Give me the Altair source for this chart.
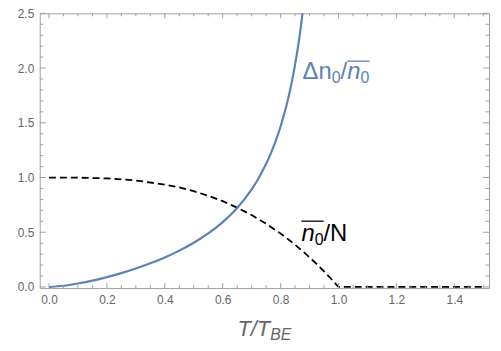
import altair as alt
import pandas as pd

# ---- data ----
t_fluct = [0.0, 0.05, 0.1, 0.15, 0.2, 0.25, 0.3, 0.35, 0.4, 0.45, 0.5, 0.55, 0.6,
           0.65, 0.7, 0.72, 0.74, 0.76, 0.78, 0.8, 0.82, 0.83, 0.84, 0.85, 0.86, 0.87, 0.88]
fluct = [0.0, 0.011, 0.032, 0.058, 0.090, 0.127, 0.169, 0.216, 0.270, 0.332, 0.404,
         0.489, 0.593, 0.722, 0.891, 0.975, 1.073, 1.182, 1.311, 1.466, 1.655, 1.766,
         1.890, 2.031, 2.191, 2.376, 2.592]

t_cond = [0.0, 0.1, 0.2, 0.3, 0.4, 0.45, 0.5, 0.55, 0.6, 0.65, 0.7, 0.75, 0.8, 0.825,
          0.85, 0.875, 0.9, 0.925, 0.95, 0.975, 1.0, 1.5]
cond = [1.0, 0.999, 0.992, 0.973, 0.936, 0.909, 0.875, 0.834, 0.784, 0.725, 0.657,
        0.578, 0.488, 0.438, 0.386, 0.330, 0.271, 0.209, 0.143, 0.073, 0.0, 0.0]

x_major = [0.0, 0.2, 0.4, 0.6, 0.8, 1.0, 1.2, 1.4]
x_minor = [round(0.05 * i, 2) for i in range(31) if round(0.05 * i, 2) not in x_major]
y_major = [0.0, 0.5, 1.0, 1.5, 2.0, 2.5]
y_minor = [round(0.1 * i, 1) for i in range(26) if round(0.1 * i, 1) not in y_major]

# ---- layout ----
W, H = 453, 277
XMIN, XMAX = -0.032, 1.52
YMIN, YMAX = -0.01, 2.5
PX_X = W / (XMAX - XMIN)
PX_Y = H / (YMAX - YMIN)
FRAME = "#a0a0a0"
LABEL = "#666666"
BLUE = "#5E81B5"
FONT = "Liberation Sans"

xs = alt.Scale(domain=[XMIN, XMAX], nice=False, zero=False)
ys = alt.Scale(domain=[YMIN, YMAX], nice=False, zero=False)

axis_common = dict(ticks=False, domain=False, grid=False, labelColor=LABEL,
                   labelFontSize=12, labelFont=FONT, title=None, format=".1f")

df_cond = pd.DataFrame({"t": t_cond, "v": cond})
df_fl = pd.DataFrame({"t": t_fluct, "v": fluct})

dashed = alt.Chart(df_cond).mark_line(color="black", strokeDash=[7, 4], strokeWidth=1.8).encode(
    x=alt.X("t:Q", scale=xs, axis=alt.Axis(values=x_major, labelPadding=7, **axis_common)),
    y=alt.Y("v:Q", scale=ys, axis=alt.Axis(values=y_major, labelPadding=6, **axis_common)),
)

blue = alt.Chart(df_fl).mark_line(color=BLUE, strokeWidth=2.2, clip=True,
                                  interpolate="monotone").encode(
    x=alt.X("t:Q", scale=xs), y=alt.Y("v:Q", scale=ys)
)

# ---- inward ticks (frame style) ----
def xticks(vals, length_px):
    d = length_px / PX_Y
    rows = []
    for v in vals:
        rows.append({"x": v, "y": YMIN, "y2": YMIN + d})
        rows.append({"x": v, "y": YMAX, "y2": YMAX - d})
    return alt.Chart(pd.DataFrame(rows)).mark_rule(color=FRAME, strokeWidth=1).encode(
        x=alt.X("x:Q", scale=xs), y=alt.Y("y:Q", scale=ys), y2="y2:Q")

def yticks(vals, length_px):
    d = length_px / PX_X
    rows = []
    for v in vals:
        rows.append({"y": v, "x": XMIN, "x2": XMIN + d})
        rows.append({"y": v, "x": XMAX, "x2": XMAX - d})
    return alt.Chart(pd.DataFrame(rows)).mark_rule(color=FRAME, strokeWidth=1).encode(
        y=alt.Y("y:Q", scale=ys), x=alt.X("x:Q", scale=xs), x2="x2:Q")

# ---- text helpers ----
def txt(s, x, y, dx=0, dy=0, size=24, color="black", style="normal"):
    return alt.Chart(pd.DataFrame({"s": [s]})).mark_text(
        align="left", baseline="alphabetic", dx=dx, dy=dy, fontSize=size,
        font=FONT, fontStyle=style, color=color).encode(
        x=alt.datum(x), y=alt.datum(y), text="s:N")

def overline(x, y, dx0, dx1, up_px, color):
    return alt.Chart(pd.DataFrame({"a": [x + dx0 / PX_X], "b": [x + dx1 / PX_X],
                                   "c": [y + up_px / PX_Y]})).mark_rule(
        color=color, strokeWidth=1.3).encode(
        x=alt.X("a:Q", scale=xs), x2="b:Q", y=alt.Y("c:Q", scale=ys))

# blue label: Δn0 / n0(bar)
bx, by = 0.876, 1.90
blue_lbl = [
    txt("Δn", bx, by, 0, 0, 24, BLUE),
    txt("0", bx, by, 29.4, 4, 16, BLUE),
    txt("/", bx, by, 38.3, 0, 24, BLUE),
    txt("n", bx, by, 45, 0, 24, BLUE, "italic"),
    txt("0", bx, by, 58.3, 4, 16, BLUE),
    overline(bx, by, 45, 67.5, 18, BLUE),
]

# black label: n0(bar) / N
kx, ky = 0.872, 0.42
black_lbl = [
    txt("n", kx, ky, 0, 0, 24, "black", "italic"),
    txt("0", kx, ky, 13.3, 4, 16, "black"),
    txt("/", kx, ky, 22.2, 0, 24, "black"),
    txt("N", kx, ky, 28.9, 0, 24, "black"),
    overline(kx, ky, 0, 22.4, 20, "black"),
]

# axis title T/T_BE
tx, ty = 0.651, -0.45
title = [
    txt("T/T", tx, ty, 0, 0, 22, LABEL, "italic"),
    txt("BE", tx, ty, 33, 4, 16, LABEL, "italic"),
]

chart = alt.layer(
    dashed, blue,
    xticks(x_major, 5), xticks(x_minor, 3),
    yticks(y_major, 6), yticks(y_minor, 3.5),
    *blue_lbl, *black_lbl, *title,
).properties(
    width=W, height=H,
    autosize=alt.AutoSizeParams(type="none"),
    padding={"left": 32, "top": 4, "right": 4, "bottom": 55},
).configure_view(stroke=FRAME, strokeWidth=1)

chart.save("out.html", embed_options={"renderer": "svg", "actions": False})
